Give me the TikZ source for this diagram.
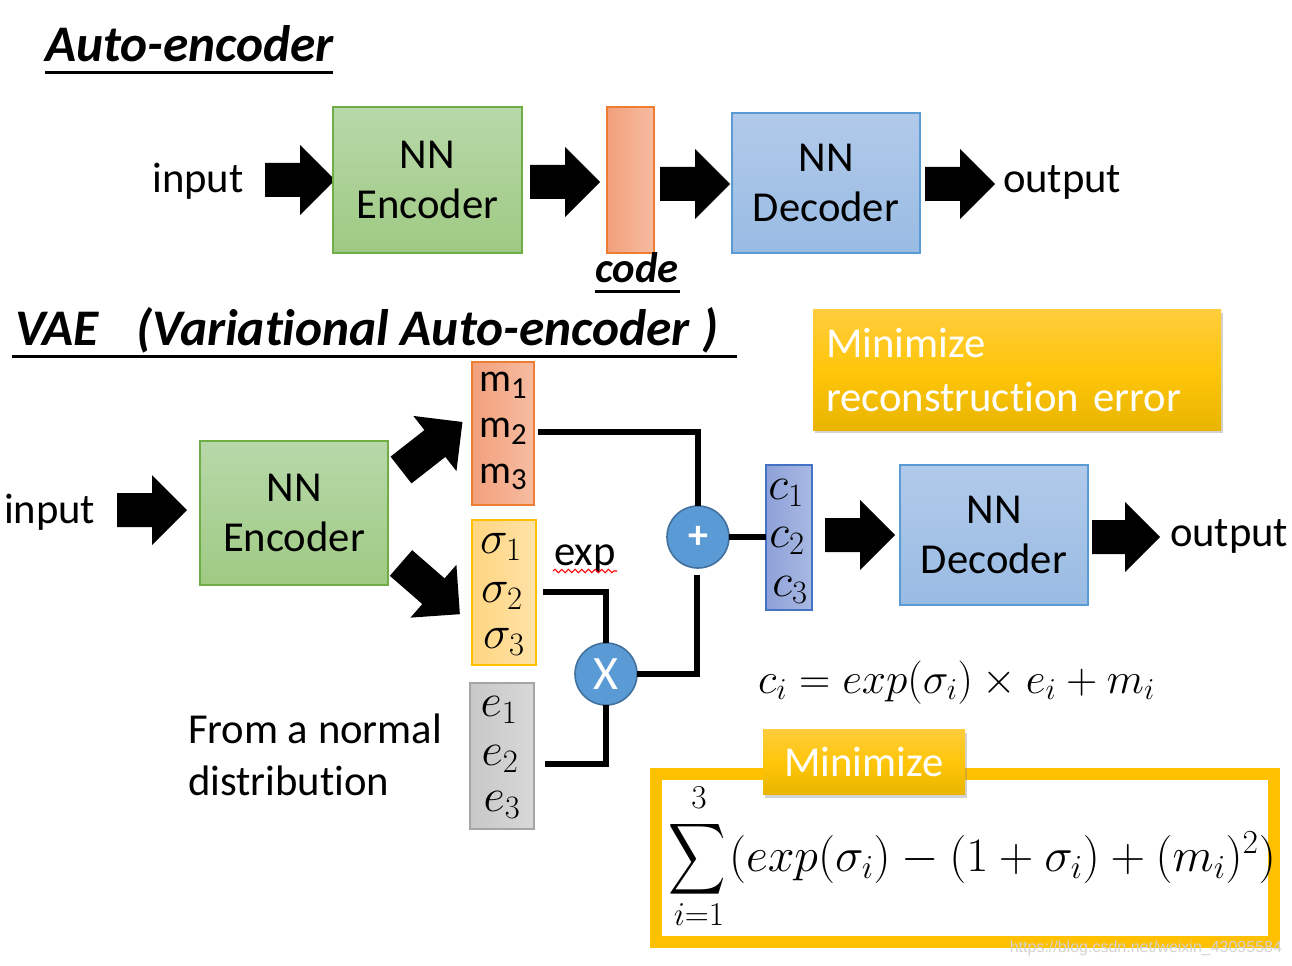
\RequirePackage{fix-cm}
\documentclass[tikz,border=0pt]{standalone}
\usepackage{amsmath}
\usepackage{graphicx}
\usepackage{fontspec}
\setmainfont{Carlito}[Ligatures=NoCommon]
\newfontfamily\wmfont{Liberation Sans}
\usetikzlibrary{shadows,calc,decorations.pathmorphing}
\definecolor{encT}{HTML}{B7D8A9}\definecolor{encB}{HTML}{9FCA83}\definecolor{encL}{HTML}{70AD47}
\definecolor{decT}{HTML}{B1CAEA}\definecolor{decB}{HTML}{99BBE3}\definecolor{decL}{HTML}{5B9BD5}
\definecolor{orL}{HTML}{F3A07B}\definecolor{orR}{HTML}{F6BCA2}\definecolor{orD}{HTML}{ED7D31}
\definecolor{yeL}{HTML}{FFD680}\definecolor{yeR}{HTML}{FFE2A8}\definecolor{yeD}{HTML}{FFC000}
\definecolor{grL}{HTML}{C8C8C8}\definecolor{grR}{HTML}{D8D8D8}\definecolor{grD}{HTML}{A5A5A5}
\definecolor{cL}{HTML}{8EA2D8}\definecolor{cR}{HTML}{A9B8E3}\definecolor{cD}{HTML}{4472C4}
\definecolor{circF}{HTML}{5B9BD5}\definecolor{circD}{HTML}{41719C}
\definecolor{goT}{HTML}{FFCD3C}\definecolor{goM}{HTML}{FFC60A}\definecolor{goB}{HTML}{E9B500}
\newcommand{\dsub}[1]{\raisebox{-5pt}{\fontsize{23}{23}\selectfont #1}}
\begin{document}
\begin{tikzpicture}[x=0.75pt,y=-0.75pt,
  every node/.style={inner sep=0pt,outer sep=0pt},
  txt/.style={font=\fontsize{32}{37.5}\selectfont},
  ttl/.style={font=\fontsize{38.5}{40}\selectfont\bfseries\itshape,anchor=base west},
  uline/.style={line width=2.25pt},
  nnbox/.style={draw,line width=1.5pt,align=center,txt},
  encbox/.style={nnbox,draw=encL,top color=encT,bottom color=encB},
  decbox/.style={nnbox,draw=decL,top color=decT,bottom color=decB},
  vecbox/.style={draw,line width=1.5pt},
  orbox/.style={vecbox,draw=orD,left color=orL,right color=orR},
  yebox/.style={vecbox,draw=yeD,left color=yeL,right color=yeR},
  grbox/.style={vecbox,draw=grD,left color=grL,right color=grR},
  cbox/.style={vecbox,draw=cD,left color=cL,right color=cR},
  entry/.style={font=\fontsize{30}{30}\selectfont},
  mentry/.style={font=\fontsize{35}{35}\selectfont},
  op/.style={circle,draw=circD,line width=1.2pt,fill=circF,text=white,minimum size=62*0.75pt},
  gold/.style={top color=goT,bottom color=goB,middle color=goM,text=white,txt,
     drop shadow={shadow xshift=1.5pt,shadow yshift=-2.5pt,opacity=0.35}},
  conn/.style={line width=4.5pt,line join=miter},
  bigmath/.style={font=\fontsize{36}{36}\selectfont},
  limit/.style={font=\fontsize{25}{25}\selectfont},
  pics/barrow/.style={code={\fill[black] (0,-17) -- (#1-35,-17) -- (#1-35,-35) -- (#1,0)
      -- (#1-35,35) -- (#1-35,17) -- (0,17) -- cycle;}},
  pics/barrow/.default=70]
\useasboundingbox (0,0) rectangle (1292,966);
\fill[white] (0,0) rectangle (1292,966);

% ---------- Auto-encoder ----------
\node[ttl] (t1) at (45,62) {Auto-encoder};
\draw[uline] (45,73) -- (333,73);
\node[txt,anchor=base] (in1) at (198,193) {input};
\pic at (265,180) {barrow};
\node[encbox,minimum width=189*0.75pt,minimum height=146*0.75pt] (enc1) at (427.5,180) {NN\\Encoder};
\pic at (530,182) {barrow};
\node[orbox,minimum width=47*0.75pt,minimum height=146*0.75pt] (code) at (630.5,180) {};
\node[font=\fontsize{32}{32}\selectfont\bfseries\itshape,anchor=base] (codet) at (637,283) {code};
\draw[uline] (595,292) -- (680,292);
\pic at (660,184) {barrow};
\node[decbox,minimum width=188*0.75pt,minimum height=140*0.75pt] (dec1) at (826,183) {NN\\Decoder};
\pic at (925,184) {barrow};
\node[txt,anchor=base west] (out1) at (1003,193) {output};

% ---------- VAE ----------
\node[ttl] (t2) at (15,345) {VAE\hspace{28pt}(Variational Auto-encoder\hspace{10pt})};
\draw[uline] (12,356) -- (737,356);

\node[txt,anchor=base west] (in2) at (4,523) {input};
\pic at (117,510) {barrow};
\node[encbox,minimum width=188*0.75pt,minimum height=144*0.75pt] (enc2) at (294,513) {NN\\Encoder};
\pic[rotate=38] at (401,470) {barrow=78};
\pic[rotate=-41] at (401,563) {barrow=78};

\node[orbox,minimum width=62*0.75pt,minimum height=143*0.75pt] (mbox) at (503,433.5) {};
\node[entry] (m1) at (503,385) {m\dsub{1}};
\node[entry] (m2) at (503,431) {m\dsub{2}};
\node[entry] (m3) at (503,477) {m\dsub{3}};

\node[yebox,minimum width=64*0.75pt,minimum height=145*0.75pt] (sbox) at (504,592.5) {};
\node[mentry] (s1) at (501,547) {$\sigma_1$};
\node[mentry] (s2) at (502,596) {$\sigma_2$};
\node[mentry] (s3) at (504,642) {$\sigma_3$};

\node[grbox,minimum width=64*0.75pt,minimum height=146*0.75pt] (ebox) at (502,756) {};
\node[mentry] (e1) at (499,710) {$e_1$};
\node[mentry] (e2) at (500,759) {$e_2$};
\node[mentry] (e3) at (502,805) {$e_3$};

\node[txt,anchor=base] (exp) at (585,565) {exp};
\draw[red,line width=0.8pt,decorate,decoration={snake,segment length=5,amplitude=1.3}] (553,571) -- (617,571);

\node[op,font=\fontsize{30}{30}\selectfont\bfseries] (plus) at (698,537) {+};
\node[op,font=\fontsize{36}{36}\selectfont] (times) at (606,674) {X};

\node[cbox,minimum width=46*0.75pt,minimum height=145*0.75pt] (cbox) at (789,537.5) {};
\node[mentry] (c1) at (786,493) {$c_1$};
\node[mentry] (c2) at (787,541) {$c_2$};
\node[mentry] (c3) at (790,590) {$c_3$};

\coordinate (mo) at (538,432);
\draw[conn] (mo) -| (plus.north);
\draw[conn] (plus.east) -- (cbox.west |- plus.east);
\coordinate (po) at (697,575);
\draw[conn] (times.east) -| (po);
\coordinate (so) at (543,592);
\draw[conn] (so) -| (times.north);
\coordinate (eo) at (545,764);
\draw[conn] (eo) -| (times.south);

\pic at (825,535) {barrow};
\node[decbox,minimum width=188*0.75pt,minimum height=140*0.75pt] (dec2) at (994,535) {NN\\Decoder};
\pic at (1092,537) {barrow=68};
\node[txt,anchor=base west] (out2) at (1170,546) {output};

\node[gold,align=left,text width=382*0.75pt,inner xsep=13*0.75pt,minimum height=120*0.75pt,
   font=\fontsize{32}{40}\selectfont] (rec) at (1017,370) {Minimize\\reconstruction error};

\node[font=\fontsize{32.5}{32}\selectfont,anchor=base west] (cform) at (758,693)
  {$c_i=exp(\sigma_i)\times e_i+m_i$};

\node[txt,anchor=base west] (norm) at (188,743) {From a normal};
\node[txt,anchor=base west] (norm2) at (188,795) {distribution};

\draw[yeD,line width=9pt] (656,774) rectangle (1274,942);
\node[bigmath] (sig) at (697,859) {\scalebox{1.2}[1.5]{$\displaystyle\sum$}};
\node[limit] (up) at (699,798) {$3$};
\node[limit] (low) at (699,915) {$i{=}1$};
\node[bigmath,anchor=base west] (body) at (729,871)
  {$(exp(\sigma_i)-(1+\sigma_i)+(m_i)^2)$};
\node[gold,minimum width=202*0.75pt,minimum height=65*0.75pt] (minl) at (864,762) {Minimize};

\node[font=\wmfont\fontsize{12}{12}\selectfont,text=gray!35,anchor=base east] (wm) at (1282,952) {https://blog.csdn.net/weixin\_43095584};
\end{tikzpicture}
\end{document}
